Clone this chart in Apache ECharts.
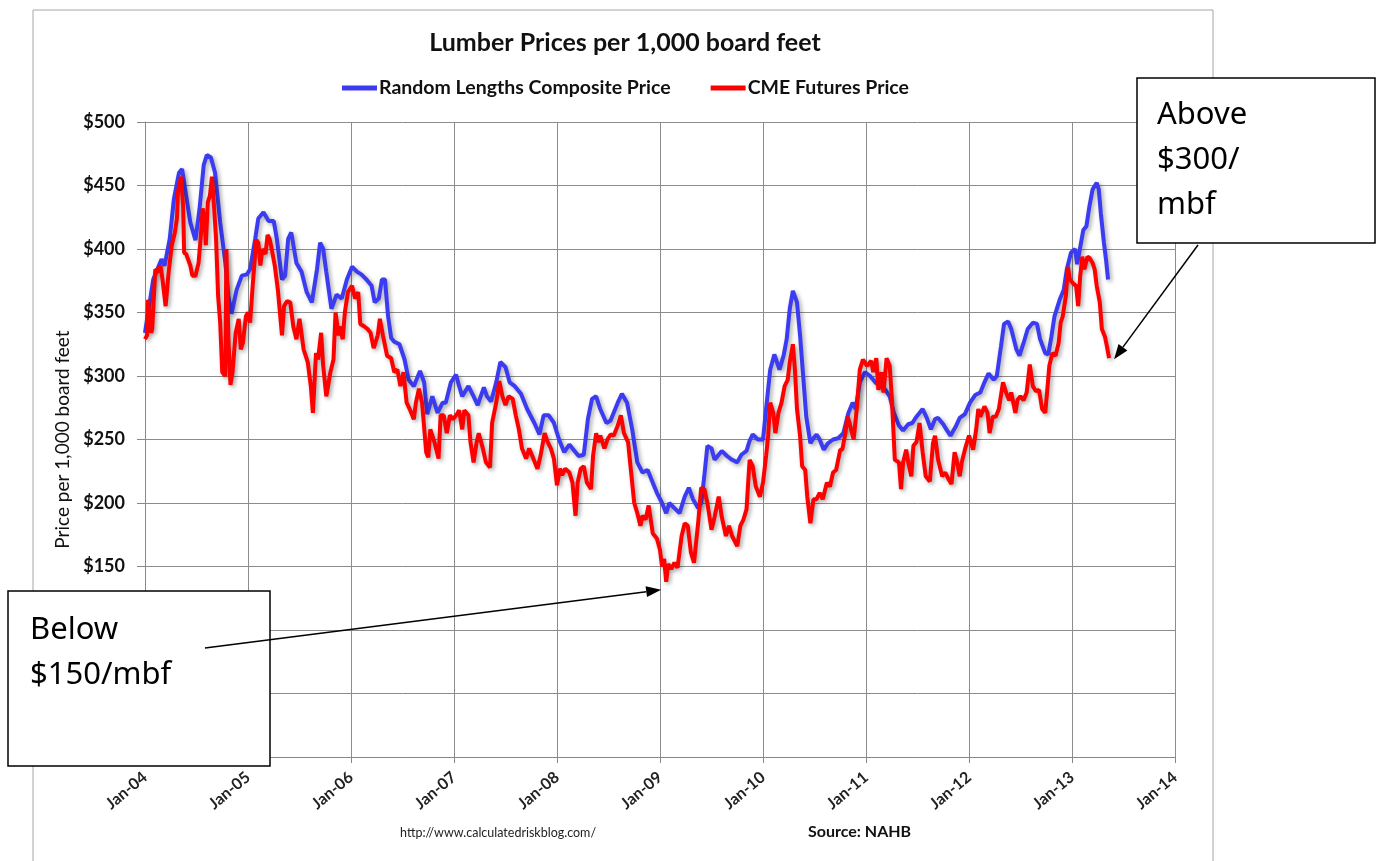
<!DOCTYPE html>
<html><head><meta charset="utf-8">
<script src="https://cdn.jsdelivr.net/npm/echarts@6/dist/echarts.min.js"></script>
<style>html,body{margin:0;padding:0;background:#fff}#c{width:1376px;height:861px}</style>
</head><body><div id="c"></div>
<script>
// Dates are decimal years (2004.50 = mid-2004)
const blueDates = [2004.00,2004.08,2004.16,2004.19,2004.24,2004.28,2004.33,2004.36,2004.39,2004.44,2004.49,2004.53,2004.57,2004.60,2004.64,2004.68,2004.73,2004.78,2004.81,2004.84,2004.89,2004.94,2004.99,
2005.02,2005.07,2005.10,2005.15,2005.20,2005.25,2005.28,2005.33,2005.36,2005.39,2005.42,2005.47,2005.52,2005.57,2005.62,2005.67,2005.70,2005.73,2005.76,2005.81,2005.86,2005.91,2005.96,
2006.01,2006.06,2006.10,2006.15,2006.20,2006.23,2006.27,2006.30,2006.33,2006.36,2006.39,2006.42,2006.47,2006.52,2006.56,2006.61,2006.67,2006.71,2006.74,2006.79,2006.84,2006.89,2006.92,2006.97,
2007.02,2007.05,2007.08,2007.14,2007.19,2007.23,2007.29,2007.32,2007.36,2007.41,2007.45,2007.50,2007.54,2007.59,2007.65,2007.71,2007.78,2007.83,2007.87,2007.92,2007.97,
2008.02,2008.07,2008.12,2008.17,2008.21,2008.26,2008.30,2008.34,2008.38,2008.42,2008.48,2008.52,2008.59,2008.63,2008.68,2008.73,2008.78,2008.83,2008.88,2008.93,2008.97,
2009.02,2009.06,2009.09,2009.14,2009.19,2009.24,2009.28,2009.32,2009.37,2009.40,2009.43,2009.46,2009.50,2009.53,2009.56,2009.60,2009.65,2009.70,2009.75,2009.79,2009.84,2009.87,2009.90,2009.95,
2010.00,2010.03,2010.07,2010.11,2010.16,2010.20,2010.23,2010.26,2010.29,2010.33,2010.36,2010.39,2010.42,2010.46,2010.49,2010.52,2010.55,2010.59,2010.63,2010.68,2010.73,2010.78,2010.83,2010.87,2010.90,2010.94,2010.99,
2011.04,2011.09,2011.14,2011.19,2011.23,2011.27,2011.32,2011.36,2011.41,2011.45,2011.49,2011.55,2011.59,2011.63,2011.67,2011.70,2011.75,2011.78,2011.82,2011.87,2011.91,2011.96,
2012.01,2012.06,2012.11,2012.15,2012.19,2012.24,2012.27,2012.31,2012.34,2012.38,2012.41,2012.46,2012.49,2012.53,2012.57,2012.62,2012.66,2012.69,2012.74,2012.77,2012.80,2012.83,2012.88,2012.92,2012.95,2012.99,
2013.03,2013.05,2013.07,2013.11,2013.14,2013.17,2013.20,2013.24,2013.26,2013.28,2013.31,2013.33,2013.35];
const blueValues = [334,376,392,387,408,439,460,463,447,421,407,432,466,474,472,460,421,389,363,349,368,379,380,
384,408,424,429,422,422,408,376,379,408,413,389,382,366,358,384,405,400,382,353,364,361,376,
386,382,380,376,371,358,361,376,376,347,330,327,325,313,297,292,304,295,270,284,271,279,279,295,
301,292,284,292,284,277,291,284,280,295,311,307,295,292,286,274,263,254,269,269,263,
250,240,246,241,237,238,266,282,284,274,263,265,279,286,279,258,232,224,226,216,208,
200,192,200,196,192,205,212,203,196,200,221,245,243,234,237,241,237,234,232,238,241,249,254,250,
250,274,305,317,305,316,329,353,367,358,332,300,268,247,251,254,250,242,247,250,251,255,271,279,274,295,303,
300,295,292,289,284,271,261,257,262,263,268,274,267,258,266,267,262,258,253,260,267,270,
279,285,287,295,302,297,300,323,341,343,337,321,316,326,337,342,341,329,318,317,331,347,360,368,384,397,
400,388,397,415,418,434,447,452,447,428,405,392,376];

const redDates = [2004.00,2004.02,2004.03,2004.06,2004.07,2004.10,2004.13,2004.15,2004.17,2004.20,2004.23,2004.26,2004.29,2004.31,2004.32,2004.35,2004.37,2004.38,2004.40,2004.44,2004.46,2004.49,2004.52,2004.54,2004.56,2004.58,2004.59,2004.61,2004.63,2004.65,2004.67,2004.69,2004.71,2004.73,2004.75,2004.78,2004.79,2004.81,2004.83,2004.85,2004.88,2004.91,2004.93,2004.95,2004.98,
2005.00,2005.02,2005.05,2005.08,2005.10,2005.12,2005.14,2005.17,2005.19,2005.21,2005.23,2005.26,2005.29,2005.33,2005.35,2005.38,2005.41,2005.44,2005.47,2005.50,2005.54,2005.58,2005.61,2005.63,2005.66,2005.68,2005.71,2005.73,2005.76,2005.80,2005.83,2005.85,2005.88,2005.89,2005.92,2005.94,2005.97,
2006.01,2006.04,2006.07,2006.09,2006.13,2006.16,2006.19,2006.22,2006.26,2006.28,2006.31,2006.35,2006.39,2006.42,2006.45,2006.48,2006.51,2006.54,2006.57,2006.61,2006.63,2006.66,2006.69,2006.73,2006.75,2006.77,2006.81,2006.85,2006.87,2006.90,2006.93,2006.96,2006.99,
2007.03,2007.05,2007.08,2007.10,2007.14,2007.16,2007.19,2007.22,2007.24,2007.28,2007.31,2007.35,2007.37,2007.41,2007.44,2007.47,2007.50,2007.53,2007.57,2007.60,2007.63,2007.66,2007.70,2007.73,2007.76,2007.81,2007.84,2007.88,2007.91,2007.94,2007.97,
2008.00,2008.03,2008.05,2008.08,2008.12,2008.15,2008.18,2008.20,2008.23,2008.26,2008.29,2008.33,2008.35,2008.38,2008.40,2008.42,2008.46,2008.49,2008.52,2008.55,2008.59,2008.62,2008.65,2008.69,2008.72,2008.75,2008.78,2008.81,2008.83,2008.86,2008.89,2008.93,2008.97,
2009.00,2009.02,2009.04,2009.06,2009.08,2009.11,2009.14,2009.17,2009.21,2009.24,2009.27,2009.30,2009.33,2009.37,2009.40,2009.43,2009.46,2009.50,2009.53,2009.57,2009.60,2009.64,2009.67,2009.70,2009.75,2009.78,2009.81,2009.84,2009.87,2009.90,2009.93,2009.97,
2010.00,2010.03,2010.05,2010.07,2010.10,2010.12,2010.15,2010.18,2010.21,2010.24,2010.26,2010.29,2010.31,2010.33,2010.36,2010.38,2010.41,2010.43,2010.46,2010.49,2010.52,2010.55,2010.58,2010.62,2010.65,2010.68,2010.71,2010.75,2010.77,2010.80,2010.82,2010.84,2010.88,2010.91,2010.94,2010.97,
2011.01,2011.05,2011.07,2011.10,2011.12,2011.15,2011.17,2011.20,2011.23,2011.25,2011.28,2011.32,2011.34,2011.36,2011.39,2011.41,2011.44,2011.46,2011.49,2011.52,2011.55,2011.58,2011.62,2011.65,2011.67,2011.70,2011.74,2011.77,2011.80,2011.83,2011.86,2011.88,2011.91,2011.93,2011.96,
2012.00,2012.04,2012.07,2012.09,2012.11,2012.15,2012.18,2012.20,2012.23,2012.26,2012.29,2012.33,2012.36,2012.39,2012.41,2012.45,2012.47,2012.50,2012.53,2012.56,2012.59,2012.62,2012.65,2012.68,2012.71,2012.74,2012.76,2012.78,2012.81,2012.84,2012.87,2012.89,2012.91,2012.94,2012.96,2012.98,
2013.01,2013.04,2013.06,2013.08,2013.10,2013.12,2013.15,2013.17,2013.20,2013.22,2013.24,2013.27,2013.29,2013.32,2013.34,2013.36];
const redValues = [329,332,360,334,337,384,382,387,376,355,382,403,413,424,445,457,434,397,396,387,379,379,389,408,432,421,403,437,442,457,434,408,363,342,303,300,400,329,293,303,334,345,321,326,347,
350,342,376,407,405,387,400,396,411,408,400,387,368,332,355,359,358,339,329,345,321,311,292,271,318,313,334,308,284,303,313,350,332,339,329,350,366,
371,361,366,341,339,337,334,322,332,345,332,316,314,303,305,292,303,279,274,266,279,290,279,240,236,258,248,235,269,269,255,269,266,
270,273,258,273,269,248,232,248,255,243,232,228,263,279,296,284,277,284,282,269,258,243,235,243,237,227,237,255,248,243,235,
214,227,222,227,224,216,190,216,227,229,216,211,237,255,248,253,243,250,254,253,261,269,255,248,224,200,192,182,190,187,198,176,172,
163,150,156,138,152,148,153,149,174,184,182,161,153,184,212,211,200,179,189,205,189,174,182,174,166,182,187,195,234,229,213,205,
216,237,253,279,271,255,271,279,292,297,311,325,305,274,253,229,226,205,184,203,203,208,203,216,213,224,226,242,242,255,268,263,250,274,305,313,
308,312,303,314,289,303,287,314,308,284,234,232,211,232,242,232,221,245,248,263,240,221,217,247,253,234,221,224,219,215,240,234,221,232,242,
253,242,258,274,268,276,271,255,268,268,274,295,287,281,287,271,281,284,281,287,309,292,288,289,274,271,289,308,318,316,326,342,347,363,386,376,
373,371,355,379,394,384,394,393,389,384,371,358,337,331,323,314];

const xTickLabels = ['Jan-04','Jan-05','Jan-06','Jan-07','Jan-08','Jan-09','Jan-10','Jan-11','Jan-12','Jan-13','Jan-14'];
const seriesNames = ['Random Lengths Composite Price','CME Futures Price'];
const titleText = 'Lumber Prices per 1,000 board feet';
const yAxisName = 'Price per 1,000 board feet';
const noteBelow = 'Below\n$150/mbf';
const noteAbove = 'Above\n$300/\nmbf';
const footerUrl = 'http://www.calculatedriskblog.com/';
const footerSource = 'Source: NAHB';

const FONT = 'Lato, "Noto Sans", sans-serif';
const chart = echarts.init(document.getElementById('c'), null, {renderer: 'canvas'});
const shadow = {shadowColor: 'rgba(0,0,0,0.35)', shadowBlur: 4, shadowOffsetX: 2, shadowOffsetY: 2};

chart.setOption({
  animation: false,
  backgroundColor: '#fff',
  title: {text: titleText, left: 620, top: 25, textAlign: 'center',
    textStyle: {fontFamily: FONT, fontWeight: 'bold', fontSize: 25, color: '#111'}},
  legend: {left: 337, top: 73, icon: 'rect', itemWidth: 35, itemHeight: 5, itemGap: 40,
    textStyle: {fontFamily: FONT, fontWeight: 'bold', fontSize: 19.5, color: '#111', padding: [0, 0, 0, -3]},
    data: seriesNames},
  grid: {left: 145, right: 201, top: 122, bottom: 104, containLabel: false},
  xAxis: {type: 'value', min: 2004, max: 2014, interval: 1,
    axisLine: {lineStyle: {color: '#888', width: 1}},
    axisTick: {show: true, length: 6, lineStyle: {color: '#888'}},
    axisLabel: {rotate: 40, margin: 18, fontFamily: FONT, fontWeight: 'bold', fontSize: 16, color: '#222',
      formatter: v => xTickLabels[Math.round(v - 2004)]},
    splitLine: {show: true, lineStyle: {color: '#8c8c8c', width: 1}}},
  yAxis: {type: 'value', min: 0, max: 500, interval: 50,
    axisLine: {show: true, lineStyle: {color: '#888', width: 1}},
    axisTick: {show: true, length: 8, lineStyle: {color: '#888'}},
    axisLabel: {margin: 20, fontFamily: FONT, fontWeight: 'bold', fontSize: 18, color: '#111', formatter: v => '$' + v},
    splitLine: {show: true, lineStyle: {color: '#8c8c8c', width: 1}},
    name: yAxisName, nameLocation: 'middle', nameGap: 70, nameRotate: 90,
    nameTextStyle: {fontFamily: FONT, fontSize: 19, color: '#111'}},
  series: [
    {name: seriesNames[0], type: 'line', showSymbol: false, symbol: 'none',
     data: blueDates.map((d, i) => [d, blueValues[i]]),
     lineStyle: Object.assign({width: 4, color: '#3b3bf2'}, shadow), itemStyle: {color: '#3b3bf2'}},
    {name: seriesNames[1], type: 'line', showSymbol: false, symbol: 'none',
     data: redDates.map((d, i) => [d, redValues[i]]),
     lineStyle: Object.assign({width: 4, color: '#ff0000'}, shadow), itemStyle: {color: '#ff0000'}}
  ]
});

// annotation arrows point at data points converted through the chart's scales
function arrow(from, tip) {
  const dx = tip[0] - from[0], dy = tip[1] - from[1];
  const len = Math.hypot(dx, dy), ux = dx / len, uy = dy / len;
  const hl = 15, hw = 5.5;
  const bx = tip[0] - ux * hl, by = tip[1] - uy * hl;
  return [
    {type: 'line', z: 120, shape: {x1: from[0], y1: from[1], x2: bx, y2: by}, style: {stroke: '#000', lineWidth: 1.5}},
    {type: 'polygon', z: 120, shape: {points: [[tip[0], tip[1]], [bx - uy * hw, by + ux * hw], [bx + uy * hw, by - ux * hw]]}, style: {fill: '#000'}}
  ];
}
const minIdx = redValues.indexOf(Math.min(...redValues));
const pMin = chart.convertToPixel({gridIndex: 0}, [redDates[minIdx], redValues[minIdx]]);
const last = redDates.length - 1;
const pLast = chart.convertToPixel({gridIndex: 0}, [redDates[last], redValues[last]]);

chart.setOption({
  graphic: [
    {type: 'rect', z: 1, silent: true, shape: {x: 33, y: 10, width: 1180, height: 880}, style: {fill: null, stroke: '#a6a6a6', lineWidth: 1}},
    {type: 'text', z: 50, style: {x: 400, y: 826, text: footerUrl, font: '12.5px ' + FONT, fill: '#222'}},
    {type: 'text', z: 50, style: {x: 808, y: 824, text: footerSource, font: 'bold 16px ' + FONT, fill: '#111'}},
    {type: 'rect', z: 110, shape: {x: 8, y: 591, width: 262, height: 175}, style: {fill: '#fff', stroke: '#000', lineWidth: 1.5}},
    {type: 'text', z: 111, style: {x: 30, y: 608, text: noteBelow, font: '31px "Noto Sans", sans-serif', lineHeight: 45, fill: '#000'}},
    {type: 'rect', z: 110, shape: {x: 1137, y: 78, width: 238, height: 165}, style: {fill: '#fff', stroke: '#000', lineWidth: 1.5}},
    {type: 'text', z: 111, style: {x: 1157, y: 93, text: noteAbove, font: '31px "Noto Sans", sans-serif', lineHeight: 45, fill: '#000'}},
    ...arrow([205, 648], [pMin[0] - 5, pMin[1] + 8]),
    ...arrow([1198, 245], [pLast[0] + 5, pLast[1] + 1])
  ]
});
</script>
</body></html>
